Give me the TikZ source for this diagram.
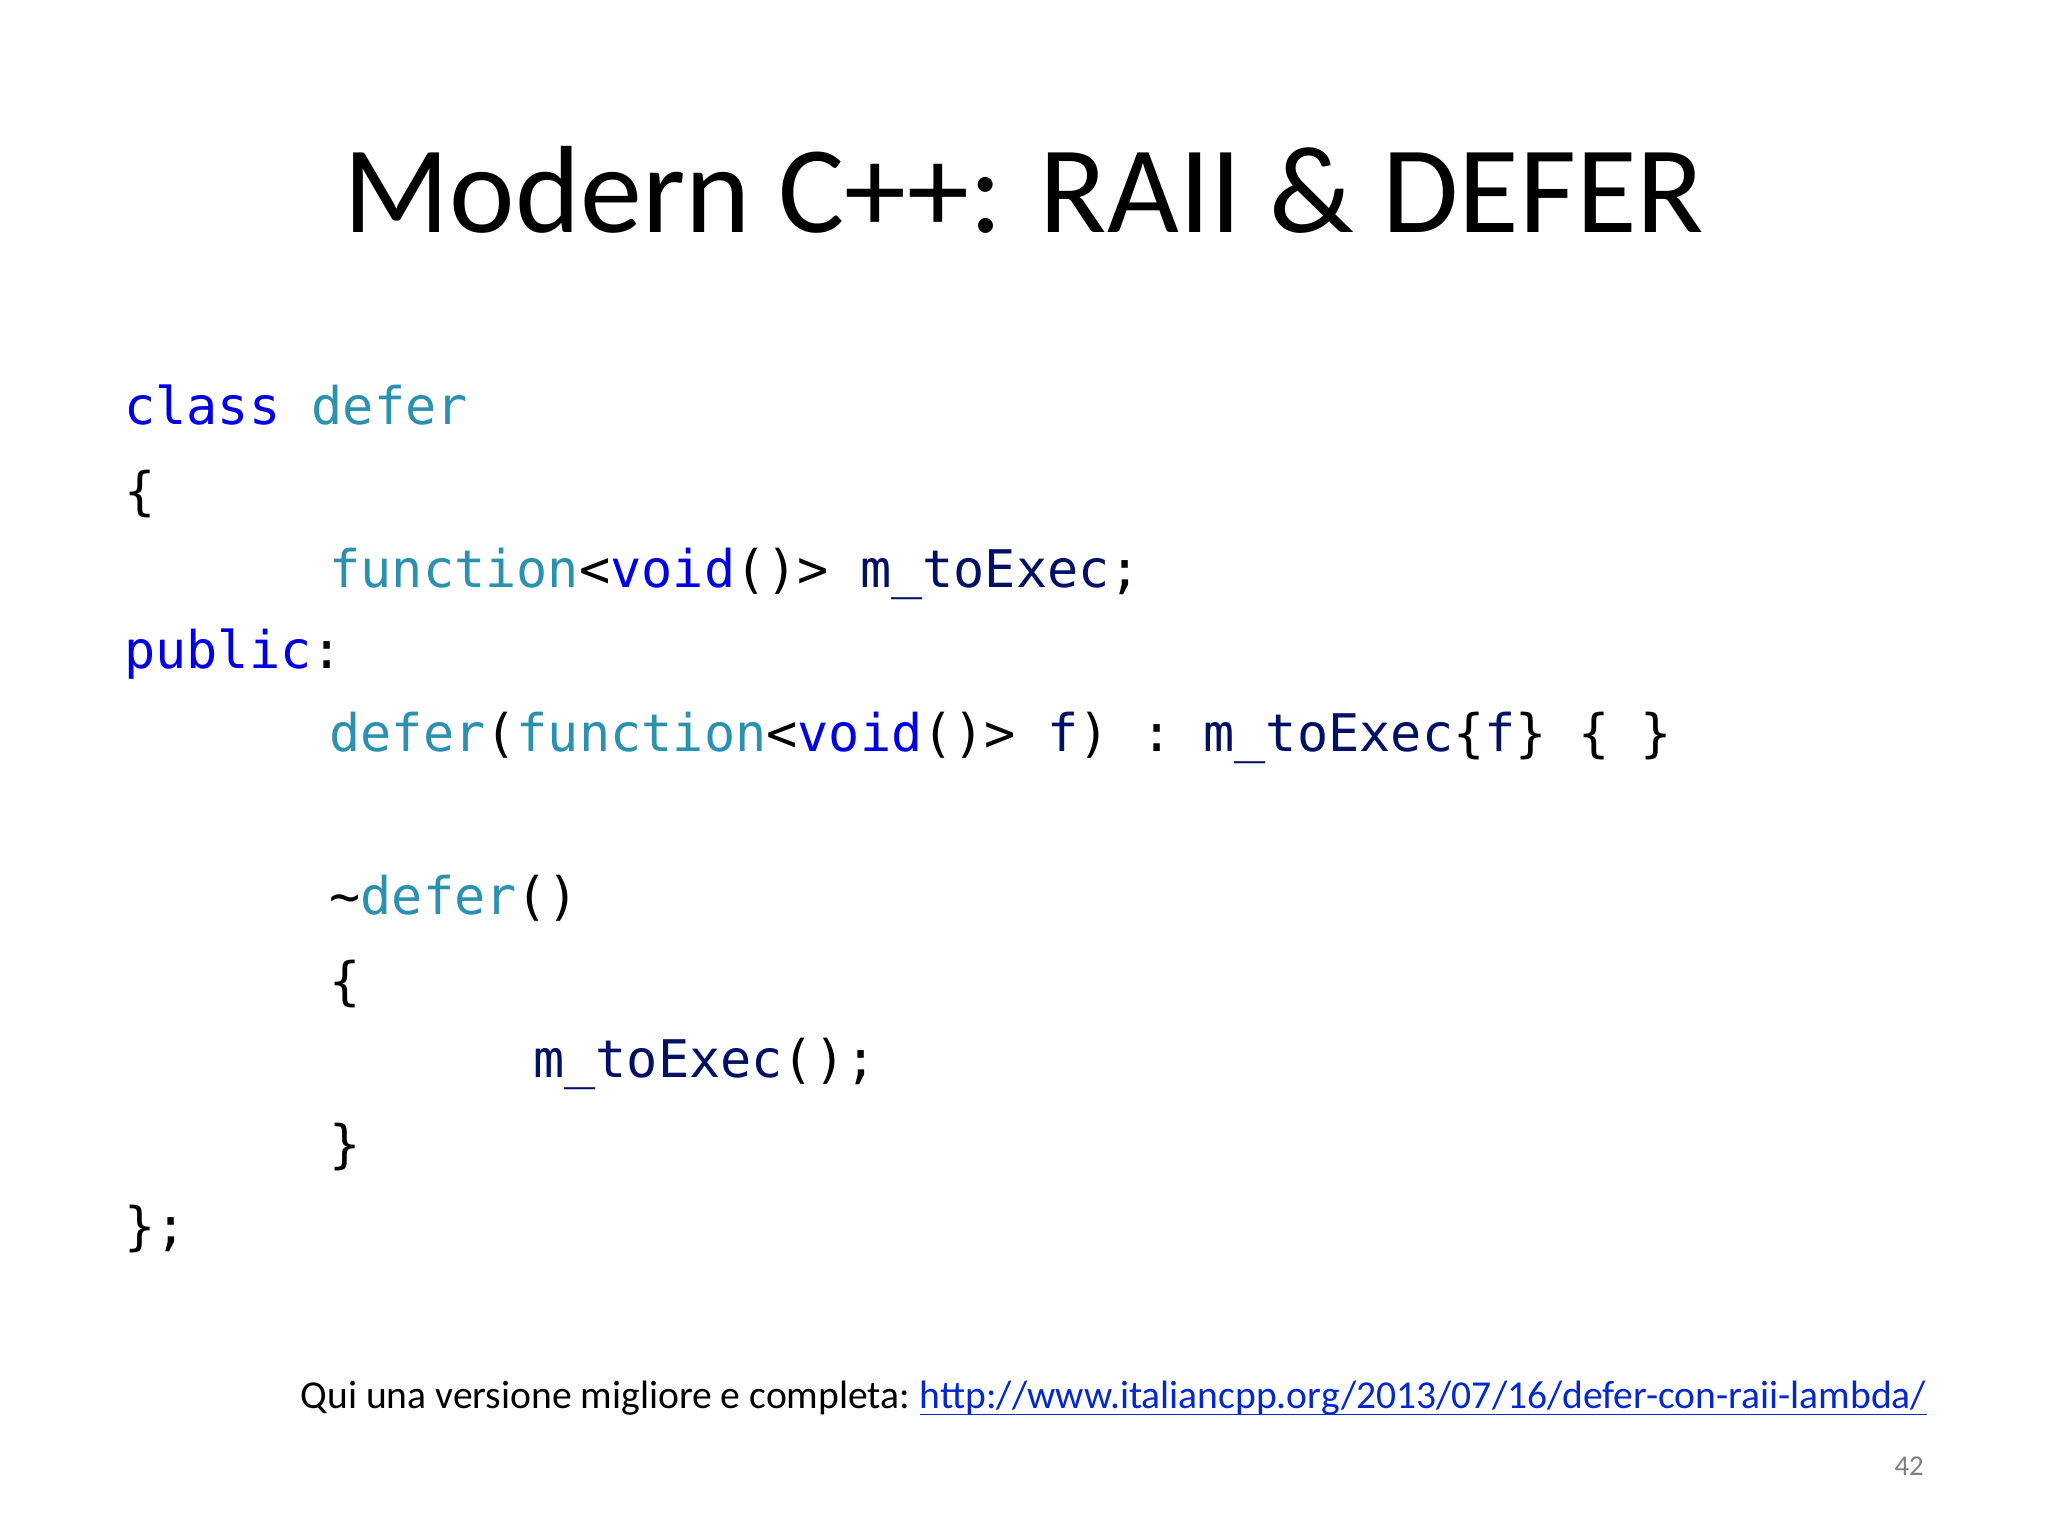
\documentclass[tikz,border=0pt]{standalone}
\usepackage{fontspec}
\setmainfont{Carlito}
\setmonofont{DejaVu Sans Mono}
\definecolor{kw}{RGB}{0,0,230}
\definecolor{ty}{RGB}{43,145,175}
\definecolor{idc}{RGB}{0,16,100}
\definecolor{lnk}{RGB}{5,40,200}
\newcommand{\kwd}[1]{\textcolor{kw}{#1}}
\newcommand{\typ}[1]{\textcolor{ty}{#1}}
\newcommand{\idn}[1]{\textcolor{idc}{#1}}
\tikzset{code/.style={anchor=base west,inner sep=0pt,font=\ttfamily\fontsize{39.7}{39.7}\selectfont}}
\begin{document}
\begin{tikzpicture}[x=1pt,y=-1pt]
\useasboundingbox[fill=white] (0,0) rectangle (1568,1176);
\node[anchor=base,inner sep=0pt,font=\fontsize{95}{95}\selectfont] (title) at (784,178) {Modern C++: RAII \& DEFER};
\node[code] (l1) at (95,325) {\kwd{class} \typ{defer}};
\node[code] (l2) at (95,390) {\{};
\node[code] (l3) at (252,450) {\typ{function}<\kwd{void}()> \idn{m\textunderscore toExec};};
\node[code] (l4) at (95,512) {\kwd{public}:};
\node[code] (l5) at (252,575) {\typ{defer}(\typ{function}<\kwd{void}()> \idn{f}) : \idn{m\textunderscore toExec}\{\idn{f}\} \{ \}};
\node[code] (l6) at (252,700) {\textasciitilde\typ{defer}()};
\node[code] (l7) at (252,765) {\{};
\node[code] (l8) at (408,825) {\idn{m\textunderscore toExec}();};
\node[code] (l9) at (252,890) {\}};
\node[code] (l10) at (95,953) {\};};
\node[anchor=base west,inner sep=0pt,font=\fontsize{30.3}{30.3}\selectfont] (foot) at (230,1078) {Qui una versione migliore e completa:};
\node[anchor=base west,inner sep=0pt,font=\fontsize{30.3}{30.3}\selectfont,text=lnk] (link) at ([xshift=7pt]foot.base east) {http://www.italiancpp.org/2013/07/16/defer-con-raii-lambda/};
\draw[lnk,line width=1.2pt] ([yshift=-5pt]link.base west) -- ([yshift=-5pt]link.base east);
\node[anchor=base east,inner sep=0pt,font=\fontsize{22}{22}\selectfont,text=gray] (pg) at (1473,1130) {42};
\end{tikzpicture}
\end{document}
